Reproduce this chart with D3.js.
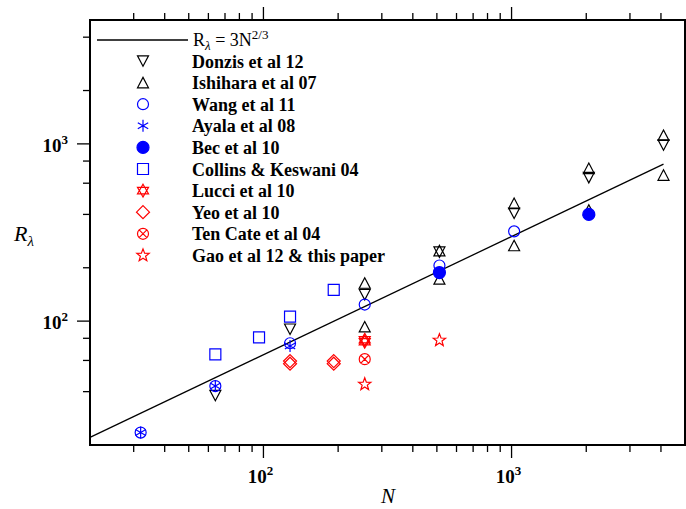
<!DOCTYPE html>
<html>
<head>
<meta charset="utf-8">
<script src="https://cdn.jsdelivr.net/npm/d3@7"></script>
<style>
  html, body { margin: 0; padding: 0; background: #fff; }
  svg { display: block; font-family: "Liberation Serif", "Times New Roman", serif; }
</style>
</head>
<body>
<svg id="chart" width="686" height="509"></svg>
<script>
// Taylor-scale Reynolds number R_lambda versus grid resolution N for DNS studies
const donzisN   = [64, 128, 256, 512, 1024, 2048, 4096];
const donzisR   = [38, 90, 141, 245, 406, 645, 985];
const ishiharaN = [256, 256, 512, 512, 1024, 1024, 2048, 2048, 4096, 4096];
const ishiharaR = [164, 93, 250, 173, 462, 267, 728, 424, 1120, 667];
const wangN     = [32, 64, 128, 256, 512, 1024];
const wangR     = [23.5, 43, 75, 124, 206, 321];
const ayalaN    = [32, 64, 128];
const ayalaR    = [23.5, 43, 72.4];
const becN      = [512, 2048];
const becR      = [188, 400];
const collinsN  = [64, 96, 128, 192];
const collinsR  = [65, 81, 106, 150];
const lucciN    = [256, 256];
const lucciR    = [76.5, 78.5];
const yeoN      = [128, 128, 192, 192];
const yeoR      = [57.5, 59.5, 57.5, 59.5];
const tenCateN  = [256];
const tenCateR  = [61];
const gaoN      = [256, 512];
const gaoR      = [44, 78];

const seriesNames = [
  "Donzis et al 12", "Ishihara et al 07", "Wang et al 11", "Ayala et al 08",
  "Bec et al 10", "Collins & Keswani 04", "Lucci et al 10", "Yeo et al 10",
  "Ten Cate et al 04", "Gao et al 12 & this paper"
];

const xMinorTicks = [30, 40, 50, 60, 70, 80, 90, 200, 300, 400, 500, 600, 700, 800, 900, 2000, 3000, 4000];
const xMajorTicks = [100, 1000];
const yMinorTicks = [40, 60, 80, 200, 400, 600, 800, 2000, 4000];
const yMajorTicks = [100, 1000];
const tickExponents = { 100: "2", 1000: "3" };

// Fit R_lambda = 3 N^(2/3)
const fitCoef = 3, fitPow = 2 / 3;
const fitRange = [20, 4096];

const svg = d3.select("#chart");
const margin = { left: 90, right: 685, top: 20, bottom: 445 };
const x = d3.scaleLog().domain([20, 5000]).range([margin.left, margin.right]);
const y = d3.scaleLog().domain([20, 5000]).range([margin.bottom, margin.top]);

const BLACK = "#000", BLUE = "#0000ff", RED = "#ff0000";

// ---- marker shapes (paths centred on the data point) ----
function triUp(s) { const h = s * 0.95, w = s; return `M0,${-h/2}L${w/2},${h/2}L${-w/2},${h/2}Z`; }
function triDown(s) { const h = s * 0.95, w = s; return `M0,${h/2}L${w/2},${-h/2}L${-w/2},${-h/2}Z`; }
function circlePath(r) { return `M${r},0A${r},${r} 0 1,1 ${-r},0A${r},${r} 0 1,1 ${r},0Z`; }
function squarePath(s) { const h = s/2; return `M${-h},${-h}H${h}V${h}H${-h}Z`; }
function diamondPath(r) { return `M0,${-r}L${r},0L0,${r}L${-r},0Z`; }
function asteriskPath(r) {
  let p = "";
  [90, 30, -30].forEach(a => {
    const t = a * Math.PI / 180, dx = r * Math.cos(t), dy = r * Math.sin(t);
    p += `M${-dx},${-dy}L${dx},${dy}`;
  });
  return p;
}
function otimesPath(r) {
  const k = r * Math.SQRT1_2;
  return circlePath(r) + `M${-k},${-k}L${k},${k}M${-k},${k}L${k},${-k}`;
}
function davidPath(s) {
  const r = s * 0.58;
  const pts = a => [0, 1, 2].map(i => {
    const t = (a + i * 120) * Math.PI / 180;
    return [r * Math.cos(t), r * Math.sin(t)];
  });
  const tri = ps => `M${ps[0][0]},${ps[0][1]}L${ps[1][0]},${ps[1][1]}L${ps[2][0]},${ps[2][1]}Z`;
  return tri(pts(-90)) + tri(pts(90));
}
function starPath(ro) {
  const ri = ro * 0.42;
  let p = "";
  for (let i = 0; i < 10; i++) {
    const r = i % 2 ? ri : ro, t = (-90 + i * 36) * Math.PI / 180;
    p += (i ? "L" : "M") + (r * Math.cos(t)) + "," + (r * Math.sin(t));
  }
  return p + "Z";
}

const series = [
  { name: seriesNames[0], N: donzisN,   R: donzisR,   path: triDown(11),      color: BLACK, fill: "none" },
  { name: seriesNames[1], N: ishiharaN, R: ishiharaR, path: triUp(11),        color: BLACK, fill: "none" },
  { name: seriesNames[2], N: wangN,     R: wangR,     path: circlePath(5.5),  color: BLUE,  fill: "none" },
  { name: seriesNames[3], N: ayalaN,    R: ayalaR,    path: asteriskPath(6),  color: BLUE,  fill: "none" },
  { name: seriesNames[4], N: becN,      R: becR,      path: circlePath(6),    color: BLUE,  fill: BLUE },
  { name: seriesNames[5], N: collinsN,  R: collinsR,  path: squarePath(11),   color: BLUE,  fill: "none" },
  { name: seriesNames[6], N: lucciN,    R: lucciR,    path: davidPath(11),    color: RED,   fill: "none" },
  { name: seriesNames[7], N: yeoN,      R: yeoR,      path: diamondPath(6.5), color: RED,   fill: "none" },
  { name: seriesNames[8], N: tenCateN,  R: tenCateR,  path: otimesPath(5.5),  color: RED,   fill: "none" },
  { name: seriesNames[9], N: gaoN,      R: gaoR,      path: starPath(6.5),    color: RED,   fill: "none" }
];

// ---- axes ticks ----
const axes = svg.append("g").attr("stroke", "#000").attr("stroke-width", 1.3);
function tick(g, x1, y1, x2, y2) { g.append("line").attr("x1", x1).attr("y1", y1).attr("x2", x2).attr("y2", y2); }
xMinorTicks.forEach(v => {
  tick(axes, x(v), margin.bottom, x(v), margin.bottom + 7);
  tick(axes, x(v), margin.top, x(v), margin.top - 7);
});
xMajorTicks.forEach(v => {
  tick(axes, x(v), margin.bottom, x(v), margin.bottom + 13);
  tick(axes, x(v), margin.top, x(v), margin.top - 13);
});
yMinorTicks.forEach(v => tick(axes, margin.left, y(v), margin.left - 7, y(v)));
yMajorTicks.forEach(v => tick(axes, margin.left, y(v), margin.left - 13, y(v)));

// tick labels
xMajorTicks.forEach(v => {
  const t = svg.append("text").attr("x", x(v) - 3).attr("y", 483)
    .attr("text-anchor", "middle").attr("font-weight", "bold").attr("font-size", 19);
  t.append("tspan").text("10");
  t.append("tspan").attr("dy", -8).attr("font-size", 13).text(tickExponents[v]);
});
yMajorTicks.forEach(v => {
  const t = svg.append("text").attr("x", 68).attr("y", y(v) + 8)
    .attr("text-anchor", "end").attr("font-weight", "bold").attr("font-size", 19);
  t.append("tspan").text("10");
  t.append("tspan").attr("dy", -8).attr("font-size", 13).text(tickExponents[v]);
});

// axis titles
svg.append("text").attr("x", 388).attr("y", 503).attr("text-anchor", "middle")
  .attr("font-style", "italic").attr("font-size", 21).text("N");
const yl = svg.append("text").attr("x", 14).attr("y", 241).attr("font-style", "italic").attr("font-size", 22);
yl.append("tspan").text("R");
yl.append("tspan").attr("dy", 5).attr("font-size", 15).text("λ");

// ---- fit line ----
const fitN = [fitRange[0], fitRange[1]];
svg.append("path")
  .attr("d", d3.line().x(d => x(d)).y(d => y(fitCoef * Math.pow(d, fitPow)))(fitN))
  .attr("fill", "none").attr("stroke", "#000").attr("stroke-width", 1.3);

// ---- data markers ----
const plot = svg.append("g");
series.forEach(s => {
  plot.selectAll(null).data(s.N.map((n, i) => [n, s.R[i]])).enter()
    .append("path")
    .attr("transform", d => `translate(${x(d[0])},${y(d[1])})`)
    .attr("d", s.path)
    .attr("fill", s.fill).attr("stroke", s.color).attr("stroke-width", 1.2);
});

// ---- frame ----
svg.append("rect")
  .attr("x", margin.left).attr("y", margin.top)
  .attr("width", margin.right - margin.left).attr("height", margin.bottom - margin.top)
  .attr("fill", "none").attr("stroke", "#000").attr("stroke-width", 2);

// ---- legend ----
const legend = svg.append("g");
legend.append("line").attr("x1", 97).attr("x2", 188).attr("y1", 40).attr("y2", 40)
  .attr("stroke", "#000").attr("stroke-width", 1.3);
const lt = legend.append("text").attr("x", 193).attr("y", 46).attr("font-size", 18);
lt.append("tspan").text("R");
lt.append("tspan").attr("dy", 4).attr("font-size", 13).attr("font-style", "italic").text("λ");
lt.append("tspan").attr("dy", -4).text(" = 3N");
lt.append("tspan").attr("dy", -7).attr("font-size", 13).text("2/3");

const rowY = i => 61 + i * 21.6;
series.forEach((s, i) => {
  legend.append("path")
    .attr("transform", `translate(143,${rowY(i)})`)
    .attr("d", s.path)
    .attr("fill", s.fill).attr("stroke", s.color).attr("stroke-width", 1.2);
  legend.append("text").attr("x", 192).attr("y", rowY(i) + 6.5)
    .attr("font-weight", "bold").attr("font-size", 18).text(s.name);
});
</script>
</body>
</html>
